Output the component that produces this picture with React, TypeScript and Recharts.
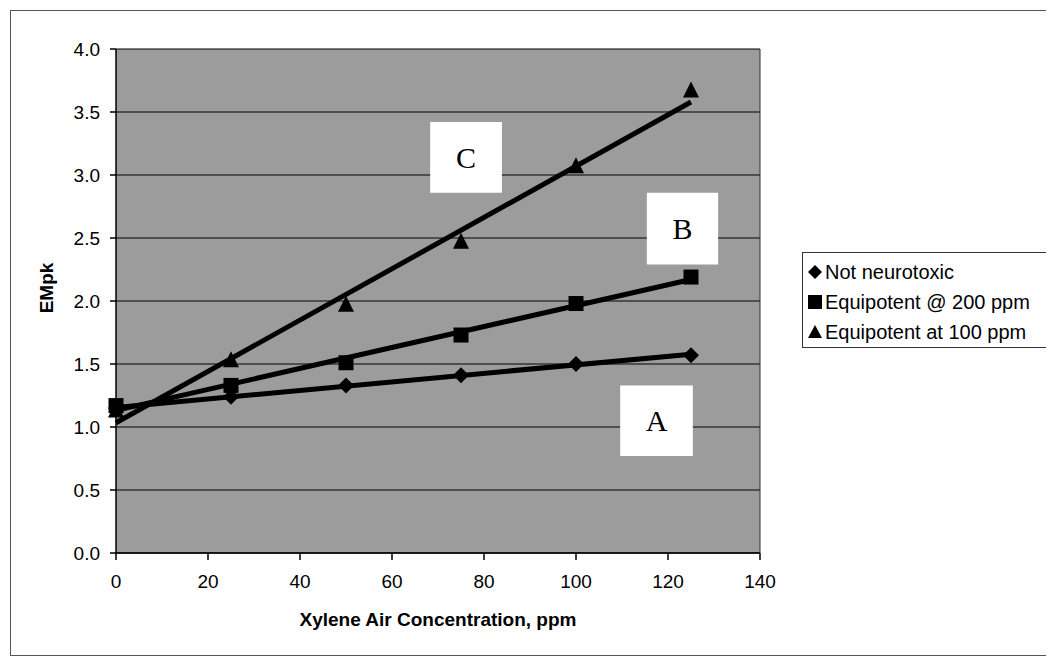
import React from 'react';
import {
  ScatterChart,
  Scatter,
  XAxis,
  YAxis,
  ZAxis,
  CartesianGrid,
  ReferenceArea,
  ReferenceLine,
} from 'recharts';

// xylene air concentration, ppm
const concentrations = [0, 25, 50, 75, 100, 125];
// EMpk values per scenario
const notNeurotoxic = [1.15, 1.24, 1.33, 1.41, 1.5, 1.57];
const equipotent200 = [1.17, 1.33, 1.51, 1.73, 1.98, 2.19];
const equipotent100 = [1.13, 1.53, 1.97, 2.47, 3.07, 3.67];

const xTicks = [0, 20, 40, 60, 80, 100, 120, 140];
const yTicks = [0, 0.5, 1, 1.5, 2, 2.5, 3, 3.5, 4];

const toPoints = (ys: number[]) => concentrations.map((x, i) => ({ x, y: ys[i] }));

const FONT = '"Liberation Sans", Arial, sans-serif';

const Diamond = (props: any) => {
  const { cx, cy } = props;
  const r = 8;
  return <path d={`M${cx},${cy - r}L${cx + r},${cy}L${cx},${cy + r}L${cx - r},${cy}Z`} fill="#000" />;
};

const Square = (props: any) => {
  const { cx, cy } = props;
  return <rect x={cx - 7.5} y={cy - 7.5} width={15} height={15} fill="#000" />;
};

const Triangle = (props: any) => {
  const { cx, cy } = props;
  return <path d={`M${cx},${cy - 9}L${cx + 8},${cy + 7}L${cx - 8},${cy + 7}Z`} fill="#000" />;
};

const legendItems = [
  { name: 'Not neurotoxic', icon: 'diamond' },
  { name: 'Equipotent @ 200 ppm', icon: 'square' },
  { name: 'Equipotent at 100 ppm', icon: 'triangle' },
];

const LegendIcon = ({ icon }: { icon: string }) => (
  <svg width={14} height={14} style={{ marginRight: 3 }}>
    {icon === 'diamond' && <path d="M7,0L14,7L7,14L0,7Z" fill="#000" />}
    {icon === 'square' && <rect x={0} y={0} width={14} height={14} fill="#000" />}
    {icon === 'triangle' && <path d="M7,0L14,13L0,13Z" fill="#000" />}
  </svg>
);

const boxLabel = (text: string) => ({
  value: text,
  position: 'center' as const,
  fill: '#000',
  fontSize: 30,
  fontFamily: '"Liberation Serif", "Times New Roman", serif',
});

export default function App() {
  return (
    <div
      style={{
        position: 'relative',
        width: 1036,
        height: 644,
        marginLeft: 2,
        marginTop: 2,
        border: '1px solid #555',
        background: '#fff',
        fontFamily: FONT,
      }}
    >
      <ScatterChart width={1036} height={644} margin={{ top: 38, right: 287, bottom: 62, left: 55 }}>
        <CartesianGrid vertical={false} stroke="#000" strokeWidth={1} fill="#9c9c9c" fillOpacity={1} />
        <XAxis
          type="number"
          dataKey="x"
          domain={[0, 140]}
          ticks={xTicks}
          height={40}
          tickSize={7}
          tickMargin={15}
          stroke="#000"
          strokeWidth={1.5}
          tick={{ fill: '#000', fontSize: 19, fontFamily: FONT }}
          tickLine={{ stroke: '#000' }}
        />
        <YAxis
          type="number"
          dataKey="y"
          domain={[0, 4]}
          ticks={yTicks}
          width={50}
          tickSize={6}
          tickMargin={10}
          stroke="#000"
          strokeWidth={1.5}
          tickFormatter={(v: number) => v.toFixed(1)}
          tick={{ fill: '#000', fontSize: 19, fontFamily: FONT }}
          tickLine={{ stroke: '#000' }}
        />
        <ZAxis range={[150, 150]} />
        <ReferenceLine x={140} stroke="#333" strokeWidth={1} />
        <ReferenceArea x1={68.3} x2={83.9} y1={2.86} y2={3.42} fill="#fff" fillOpacity={1} stroke="none" label={boxLabel('C')} />
        <ReferenceArea x1={115.4} x2={130.9} y1={2.29} y2={2.86} fill="#fff" fillOpacity={1} stroke="none" label={boxLabel('B')} />
        <ReferenceArea x1={109.6} x2={125.4} y1={0.77} y2={1.33} fill="#fff" fillOpacity={1} stroke="none" label={boxLabel('A')} />
        <Scatter
          name="Not neurotoxic"
          data={toPoints(notNeurotoxic)}
          fill="#000"
          line={{ stroke: '#000', strokeWidth: 5 }}
          lineType="fitting"
          shape={Diamond}
          isAnimationActive={false}
        />
        <Scatter
          name="Equipotent @ 200 ppm"
          data={toPoints(equipotent200)}
          fill="#000"
          line={{ stroke: '#000', strokeWidth: 5 }}
          lineType="fitting"
          shape={Square}
          isAnimationActive={false}
        />
        <Scatter
          name="Equipotent at 100 ppm"
          data={toPoints(equipotent100)}
          fill="#000"
          line={{ stroke: '#000', strokeWidth: 5 }}
          lineType="fitting"
          shape={Triangle}
          isAnimationActive={false}
        />
      </ScatterChart>

      <div
        style={{
          position: 'absolute',
          left: 427,
          top: 609,
          transform: 'translate(-50%, -50%)',
          fontWeight: 'bold',
          fontSize: 19,
          whiteSpace: 'nowrap',
        }}
      >
        Xylene Air Concentration, ppm
      </div>
      <div
        style={{
          position: 'absolute',
          left: 36,
          top: 277,
          transform: 'translate(-50%, -50%) rotate(-90deg)',
          fontWeight: 'bold',
          fontSize: 19,
          whiteSpace: 'nowrap',
        }}
      >
        EMpk
      </div>

      <div
        style={{
          position: 'absolute',
          left: 791,
          top: 241,
          width: 246,
          height: 96,
          border: '1px solid #333',
          background: '#fff',
          boxSizing: 'border-box',
          padding: '4px 0 0 5px',
        }}
      >
        {legendItems.map((item) => (
          <div
            key={item.name}
            style={{ display: 'flex', alignItems: 'center', height: 30, fontSize: 20, whiteSpace: 'nowrap' }}
          >
            <LegendIcon icon={item.icon} />
            {item.name}
          </div>
        ))}
      </div>
    </div>
  );
}
